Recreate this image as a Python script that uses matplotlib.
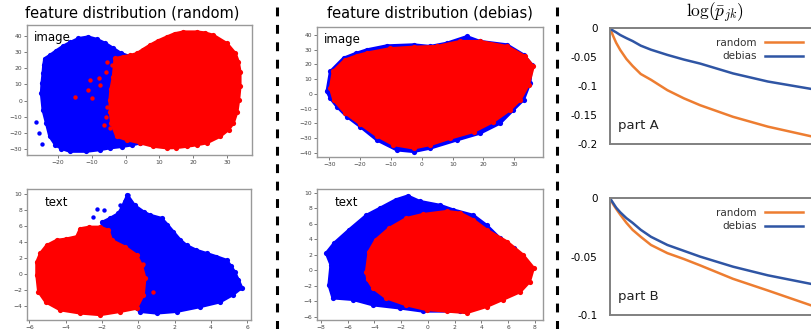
import matplotlib
matplotlib.use("Agg")
import matplotlib.pyplot as plt
from matplotlib.lines import Line2D
from matplotlib.ticker import FuncFormatter

plt.rcParams["mathtext.fontset"] = "cm"

# ---- scatter clouds, outlines (x, y) ----
img_rand_blue = [(-24.0, 26), (-22.5, 28), (-20.5, 31), (-18.5, 33.8), (-16.5, 36), (-14.0, 38.5),
                 (-11.1, 39.5), (-8.5, 38), (-6.0, 35.5), (-3.7, 32.5), (-1.5, 29.5), (1.0, 27.5),
                 (2.3, 25.1), (4.3, 0.4), (4.3, -26.3), (2.0, -27.5), (-1.0, -28.5), (-4.7, -29.4),
                 (-7.6, -30.5), (-11.6, -31.5), (-16.5, -31.5), (-19.0, -29.8), (-20.8, -27.5),
                 (-22.5, -22.2), (-23.5, -14.0), (-24.5, -5.8), (-25.0, 4.5), (-24.8, 11.0),
                 (-24.5, 16.9), (-24.3, 22.0)]
img_rand_red = [(-3.2, 26.1), (-3.7, 14.8), (-4.4, 7.0), (-4.7, 0.4), (-4.6, -7.0), (-4.2, -14.0),
                (-2.7, -22.2), (0.3, -24.3), (4.3, -26.3), (8.2, -28.4), (12.2, -29.4), (15.0, -29.2),
                (18.1, -28.4), (21.0, -27.5), (24.0, -26.3), (28.0, -22.2), (30.5, -18.0), (31.9, -14.0),
                (33.0, -7.0), (33.5, 0.4), (33.9, 9.0), (33.9, 17.9), (33.4, 24.0), (32.5, 29.2),
                (30.0, 35.4), (26.0, 40.5), (23.5, 42.0), (21.1, 42.6), (17.1, 42.6), (14.5, 41.5),
                (12.2, 39.5), (9.5, 37.0), (7.2, 34.4), (5.0, 31.5), (3.3, 29.2), (1.2, 28.0), (-0.7, 27.2)]
img_rand_red_x = [-5.6, -5.8, -10.6, -11.1, -15.0, -10.1, -7.6, -5.6, -5.8, -6.4, -4.7, -1.7, 1.2, -4.0, -2.0, -8.0]
img_rand_red_y = [24.1, 17.9, 12.8, 6.6, 2.5, 1.4, 9.7, -3.7, -9.9, -15.0, -17.1, -19.1, -21.2, 22.0, -10.0, 14.0]
img_rand_blue_x = [-26.4, -25.6, -24.7, -24.5]
img_rand_blue_y = [-13.0, -20.2, -26.7, 6.6]

txt_rand_blue = [(-2.0, 6.5), (-1.56, 7.0), (-1.1, 7.6), (-0.9, 8.4), (-0.6, 9.9), (-0.2, 8.6),
                 (0.3, 7.8), (0.64, 7.4), (1.28, 7.0), (1.6, 6.2), (1.93, 5.3), (2.3, 4.3), (2.66, 3.6),
                 (3.2, 3.0), (3.76, 2.6), (4.3, 2.2), (4.86, 1.75), (5.1, 1.0), (5.3, 0.3), (5.5, -0.7),
                 (5.7, -1.7), (5.2, -2.6), (4.5, -3.5), (3.4, -4.1), (2.1, -4.7), (1.0, -4.9),
                 (0.1, -4.7), (-1.0, -3.0), (-1.5, 2.0), (-2.0, 5.0)]
txt_rand_red = [(-5.6, 1.5), (-5.6, -0.1), (-5.5, -2.2), (-5.1, -3.5), (-4.3, -4.5), (-3.2, -4.9),
                (-2.1, -5.1), (-1.0, -4.7), (-0.1, -4.3), (0.28, -2.6), (0.37, -0.5), (0.18, 1.1),
                (-0.1, 2.4), (-0.73, 3.4), (-1.47, 4.25), (-1.65, 5.5), (-2.1, 5.9), (-2.7, 5.9),
                (-3.2, 5.7), (-3.4, 4.7), (-4.0, 4.4), (-4.5, 4.25), (-5.05, 3.6), (-5.4, 2.6)]
txt_rand_blue_x = [-2.5, -2.3, -1.9, -0.55, 5.43, 5.6, -1.0, -0.75]
txt_rand_blue_y = [7.2, 8.2, 8.0, 9.9, -0.6, -1.7, 8.6, 9.1]
txt_rand_red_x = [0.83, 0.28]
txt_rand_red_y = [-2.2, 1.3]

img_deb_blue = [(-30.8, 1.6), (-29.7, 15.2), (-25.4, 24.3), (-21.5, 27.5), (-17.8, 30.0), (-11.4, 32.7),
                (-2.7, 33.4), (2.7, 32.3), (8.1, 34.5), (14.6, 39.0), (18.9, 35.7), (27.6, 33.4),
                (33.0, 26.6), (35.7, 19.8), (35.1, 7.3), (33.0, -4.1), (29.7, -10.9), (25.4, -20.0),
                (18.9, -26.8), (11.4, -31.4), (2.7, -37.0), (-2.7, -39.3), (-8.1, -38.2), (-14.6, -31.4),
                (-20.0, -22.3), (-24.3, -15.5), (-27.6, -8.6), (-29.7, -3.0)]
img_deb_red = [(-29.7, 3.9), (-28.8, 15.2), (-25.0, 23.0), (-21.0, 26.0), (-17.8, 27.8), (-10.3, 30.8),
               (-2.7, 31.8), (4.9, 32.3), (12.4, 35.7), (18.9, 35.7), (27.6, 32.3), (33.5, 25.5),
               (36.2, 18.6), (34.6, 6.1), (31.9, -4.1), (28.6, -10.9), (23.2, -18.9), (16.8, -25.7),
               (9.2, -30.2), (2.7, -34.6), (-2.7, -36.9), (-9.2, -34.6), (-14.6, -28.5), (-20.0, -20.5),
               (-24.9, -13.0), (-28.6, -4.1)]

txt_deb_blue = [(-7.6, 2.2), (-7.0, 3.5), (-5.9, 5.2), (-4.6, 7.1), (-3.6, 8.0), (-2.4, 9.1),
                (-1.5, 9.6), (-0.6, 8.9), (0.9, 8.4), (1.9, 7.8), (3.4, 7.1), (4.4, 5.8), (5.4, 4.1),
                (6.4, 2.8), (7.1, 1.1), (6.4, -2.8), (4.4, -4.5), (2.4, -5.3), (-0.4, -5.3),
                (-2.1, -4.9), (-4.1, -4.5), (-5.6, -3.8), (-7.1, -3.6), (-7.4, -1.9), (-7.25, 0.7)]
txt_deb_red = [(-4.6, -0.2), (-4.4, 2.4), (-3.9, 3.9), (-2.9, 5.4), (-1.6, 6.7), (-0.4, 7.2),
               (1.4, 7.6), (2.4, 7.4), (3.4, 6.5), (4.4, 5.2), (5.9, 3.7), (7.1, 2.0), (7.9, 0.3),
               (7.6, -1.5), (6.9, -2.8), (5.6, -3.8), (4.4, -4.7), (2.9, -5.5), (1.4, -5.3),
               (-0.1, -5.1), (-1.6, -4.5), (-3.1, -3.6), (-4.1, -2.3), (-4.5, -1.2)]

# ---- log(p_jk) curves ----
steps = [0, 0.015, 0.03, 0.05, 0.08, 0.11, 0.15, 0.2, 0.28, 0.36, 0.44, 0.6, 0.77, 0.985]
a_random = [0, -0.013, -0.025, -0.0375, -0.053, -0.065, -0.079, -0.089, -0.107, -0.121, -0.133, -0.153, -0.170, -0.187]
a_debias = [0, -0.004, -0.007, -0.0116, -0.017, -0.022, -0.030, -0.037, -0.046, -0.054, -0.061, -0.078, -0.092, -0.105]
b_random = [0, -0.005, -0.009, -0.014, -0.021, -0.027, -0.033, -0.040, -0.047, -0.052, -0.0575, -0.069, -0.079, -0.092]
b_debias = [0, -0.004, -0.008, -0.012, -0.017, -0.021, -0.027, -0.033, -0.040, -0.045, -0.050, -0.0586, -0.066, -0.0735]

W, H = 812, 329
fig = plt.figure(figsize=(W / 100, H / 100), dpi=100)


def box(x0, y0, x1, y1):
    return [x0 / W, 1 - y1 / H, (x1 - x0) / W, (y1 - y0) / H]


def scatter_panel(rect, blue, red, xlim, ylim, xticks, yticks, label, extra=(), label_x=0.03):
    ax = fig.add_axes(rect)
    for poly, col, z in ((blue, "#0000ff", 1), (red, "#ff0000", 2)):
        xs = [p[0] for p in poly]
        ys = [p[1] for p in poly]
        ax.fill(xs, ys, color=col, lw=2.0, ec=col, joinstyle="round", zorder=z)
        ax.scatter(xs, ys, s=14, color=col, lw=0, zorder=z)
    for xs, ys, col in extra:
        ax.scatter(xs, ys, s=10, color=col, lw=0, zorder=3)
    ax.set_xlim(xlim)
    ax.set_ylim(ylim)
    ax.set_xticks(xticks)
    ax.set_yticks(yticks)
    ax.tick_params(labelsize=4.3, length=2, width=0.5, pad=1.5, colors="#444444")
    for s in ax.spines.values():
        s.set_color("#999999")
        s.set_linewidth(1.0)
    ax.text(label_x, 0.95, label, transform=ax.transAxes, ha="left", va="top", fontsize=8.5)
    return ax


scatter_panel(box(27, 25, 252, 155), img_rand_blue, img_rand_red, (-29.2, 37.4), (-33.7, 46.8),
              range(-20, 31, 10), range(-30, 41, 10), "image",
              [(img_rand_red_x, img_rand_red_y, "#ff0000"), (img_rand_blue_x, img_rand_blue_y, "#0000ff")])
scatter_panel(box(27, 189, 251, 320), txt_rand_blue, txt_rand_red, (-6.13, 6.2), (-5.75, 10.66),
              range(-6, 7, 2), range(-4, 11, 2), "text",
              [(txt_rand_blue_x, txt_rand_blue_y, "#0000ff"), (txt_rand_red_x, txt_rand_red_y, "#ff0000")],
              label_x=0.08)
scatter_panel(box(317, 27, 543, 157), img_deb_blue, img_deb_red, (-34, 39.3), (-42.9, 45.4),
              range(-30, 31, 10), range(-40, 41, 10), "image")
scatter_panel(box(317, 189, 543, 320), txt_deb_blue, txt_deb_red, (-8.28, 8.6), (-6.43, 10.48),
              range(-8, 9, 2), range(-6, 11, 2), "text", label_x=0.08)

fig.text(132 / W, 1 - 13 / H, "feature distribution (random)", ha="center", va="center", fontsize=10.5)
fig.text(430 / W, 1 - 13 / H, "feature distribution (debias)", ha="center", va="center", fontsize=10.5)


def fmt(v, _):
    if abs(v) < 1e-9:
        return "0"
    return ("%.2f" % v).rstrip("0")


def line_panel(rect, rnd, deb, ylim, yticks, label):
    ax = fig.add_axes(rect)
    ax.plot(steps, rnd, color="#ed7d31", lw=1.8, label="random")
    ax.plot(steps, deb, color="#2f55a4", lw=1.8, label="debias")
    ax.set_xlim(0, 1.0)
    ax.set_ylim(ylim)
    ax.set_xticks([])
    ax.set_yticks(yticks)
    ax.yaxis.set_major_formatter(FuncFormatter(fmt))
    ax.tick_params(axis="y", length=0, pad=9, labelsize=7.5)
    for s in ax.spines.values():
        s.set_color("#808080")
        s.set_linewidth(1.4)
    ax.legend(loc="upper right", bbox_to_anchor=(0.985, 1.0), frameon=False, markerfirst=False,
              handlelength=3.6, fontsize=7.5, labelspacing=0.35, handletextpad=0.8,
              labelcolor="#333333")
    ax.text(0.04, 0.1, label, transform=ax.transAxes, ha="left", va="bottom", fontsize=9.5,
            color="#222222")
    return ax


line_panel(box(610, 28.3, 815, 144), a_random, a_debias, (-0.2, 0), [0, -0.05, -0.1, -0.15, -0.2], "part A")
line_panel(box(610, 198.3, 815, 315), b_random, b_debias, (-0.1, 0), [0, -0.05, -0.1], "part B")
fig.text(715 / W, 1 - 13 / H, r"$\log(\bar{p}_{jk})$", ha="center", va="center", fontsize=12.5)

for xs in (277, 557):
    fig.add_artist(Line2D([xs / W, xs / W], [1 - 7 / H, 0], transform=fig.transFigure,
                          color="black", lw=2.2, linestyle=(0, (2.9, 2.8))))

fig.savefig("out.png", dpi=100)
